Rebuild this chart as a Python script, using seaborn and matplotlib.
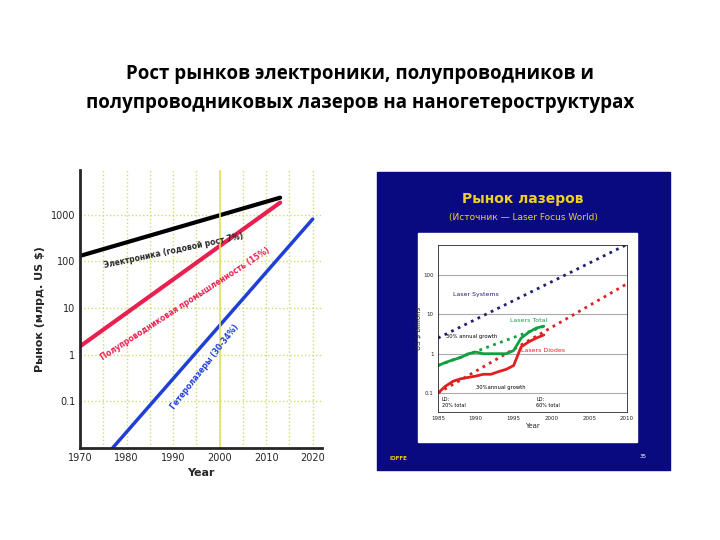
import matplotlib
matplotlib.use("Agg")
import matplotlib.pyplot as plt
import matplotlib.patches as mpatches
import numpy as np
import seaborn as sns

sns.set_style("white")
plt.rcParams['font.family'] = ['DejaVu Sans']

# left chart: market trends (log scale, billions US $)
years_el = [1970, 2013]
electronics = [130, 2300]
years_sc = [1970, 2013]
semicond = [1.5, 1800]
years_hl = [1977, 2020]
heterolasers = [0.01, 800]
left_ticks = [0.1, 1, 10, 100, 1000]

# right chart: laser market
years_ext = [1985, 2010]
laser_systems = [2.5, 600]
diodes_trend = [0.1, 60]
years_tot = [1985, 1999]
total_trend = [0.5, 5]
years_act = list(range(1985, 2000))
lasers_total = [0.5, 0.6, 0.7, 0.8, 1.0, 1.1, 1.0, 1.0, 1.0, 1.0, 1.2, 2.5, 3.5, 4.5, 5.0]
lasers_diodes = [0.1, 0.15, 0.2, 0.23, 0.25, 0.27, 0.3, 0.3, 0.35, 0.4, 0.5, 1.5, 2.0, 2.5, 3.0]

fig = plt.figure(figsize=(7.2, 5.4), dpi=100)
fig.text(0.5, 1-89/540, "Рост рынков электроники, полупроводников и\nполупроводниковых лазеров на наногетероструктурах",
         ha="center", va="center", fontsize=13.5, fontweight="bold", linespacing=1.6,
         color="black", family=["Open Sans", "DejaVu Sans"])

# ---- left chart
ax = fig.add_axes([80/720, 1-448/540, 242/720, 278/540])
sns.lineplot(x=years_el, y=electronics, color="black", lw=3, ax=ax)
sns.lineplot(x=years_sc, y=semicond, color="#e8204f", lw=3, ax=ax)
sns.lineplot(x=years_hl, y=heterolasers, color="#1f3fd6", lw=2.5, ax=ax)
ax.set_yscale("log")
ax.set_xlim(1970, 2022)
ax.set_ylim(0.01, 9000)
ax.set_yticks(left_ticks)
ax.set_yticklabels(["0.1", "1", "10", "100", "1000"], fontsize=7)
ax.minorticks_off()
ax.set_xticks(range(1970, 2030, 10))
ax.tick_params(labelsize=7, length=3, direction="in")
ax.grid(True, linestyle=":", color="#c8e070", lw=1)
ax.set_xticks(range(1975, 2025, 10), minor=True)
ax.grid(True, which="minor", axis="x", linestyle=":", color="#c8e070", lw=1)
ax.axvline(2000, color="#e0e060", lw=1.2)
for s in ["top", "right"]:
    ax.spines[s].set_visible(False)
ax.spines["left"].set_linewidth(2)
ax.spines["bottom"].set_linewidth(2)
ax.set_xlabel("Year", fontsize=8, fontweight="bold")
ax.set_ylabel("Рынок (млрд. US $)", fontsize=8, fontweight="bold")
ax.text(1975, 70, "Электроника (годовой рост 7%)", rotation=12, fontsize=5.5, fontweight="bold")
ax.text(1974, 0.75, "Полупроводниковая промышленность (15%)", rotation=33, fontsize=5.5,
        fontweight="bold", color="#e8204f")
ax.text(1989, 0.07, "Гетеролазеры (30-34%)", rotation=52, fontsize=5.5,
        fontweight="bold", color="#1f3fd6")

# ---- right panel
fig.patches.append(mpatches.Rectangle((377/720, 1-470/540), 293/720, 298/540,
                                      transform=fig.transFigure, color="#0a0a80", zorder=0))
fig.patches.append(mpatches.Rectangle((418/720, 1-442/540), 219/720, 209/540,
                                      transform=fig.transFigure, color="white", zorder=1))
fig.text(523/720, 1-203/540, "Рынок лазеров", color="#f0d020", fontsize=10,
         fontweight="bold", ha="center")
fig.text(523/720, 1-220/540, "(Источник — Laser Focus World)", color="#f0d020",
         fontsize=6.5, ha="center")
fig.text(640/720, 1-458/540, "35", color="white", fontsize=4)
fig.text(390/720, 1-460/540, "IOFFE", color="#f0d020", fontsize=4, fontweight="bold")

ax2 = fig.add_axes([438/720, 1-412/540, 189/720, 167/540])
ax2.set_zorder(2)
sns.lineplot(x=years_ext, y=laser_systems, color="#202070", lw=2, linestyle=":", ax=ax2)
sns.lineplot(x=years_ext, y=diodes_trend, color="#e02020", lw=2, linestyle=":", ax=ax2)
sns.lineplot(x=years_tot, y=total_trend, color="#10a040", lw=2, linestyle=":", ax=ax2)
sns.lineplot(x=years_act, y=lasers_total, color="#10a040", lw=2, ax=ax2)
sns.lineplot(x=years_act, y=lasers_diodes, color="#e02020", lw=2, ax=ax2)
ax2.set_yscale("log")
ax2.set_xlim(1985, 2010)
ax2.set_ylim(0.033, 580)
ax2.set_yticks([0.1, 1, 10, 100])
ax2.set_yticklabels(["0.1", "1", "10", "100"])
ax2.minorticks_off()
ax2.set_xticks(range(1985, 2015, 5))
ax2.tick_params(labelsize=4, length=2, pad=1)
ax2.grid(True, axis="y", color="#aaaaaa", lw=0.8)
ax2.set_facecolor("none")
for s in ax2.spines.values():
    s.set_linewidth(0.6)
ax2.set_xlabel("Year", fontsize=5, labelpad=1)
ax2.set_ylabel("US $ billions", fontsize=5, labelpad=1)
ax2.text(1987, 30, "Laser Systems", color="#202070", fontsize=4.5)
ax2.text(1994.5, 6.5, "Lasers Total", color="#10a040", fontsize=4.5)
ax2.text(1986, 2.5, "30% annual growth", color="black", fontsize=3.8)
ax2.text(1996, 1.1, "Lasers Diodes", color="#e02020", fontsize=4.5)
ax2.text(1990, 0.13, "30%annual growth", color="black", fontsize=3.8)
ax2.text(1985.5, 0.045, "LD:\n20% total", color="black", fontsize=3.5)
ax2.text(1998, 0.045, "LD:\n60% total", color="black", fontsize=3.5)

fig.savefig("out.png", dpi=100, facecolor="white")
